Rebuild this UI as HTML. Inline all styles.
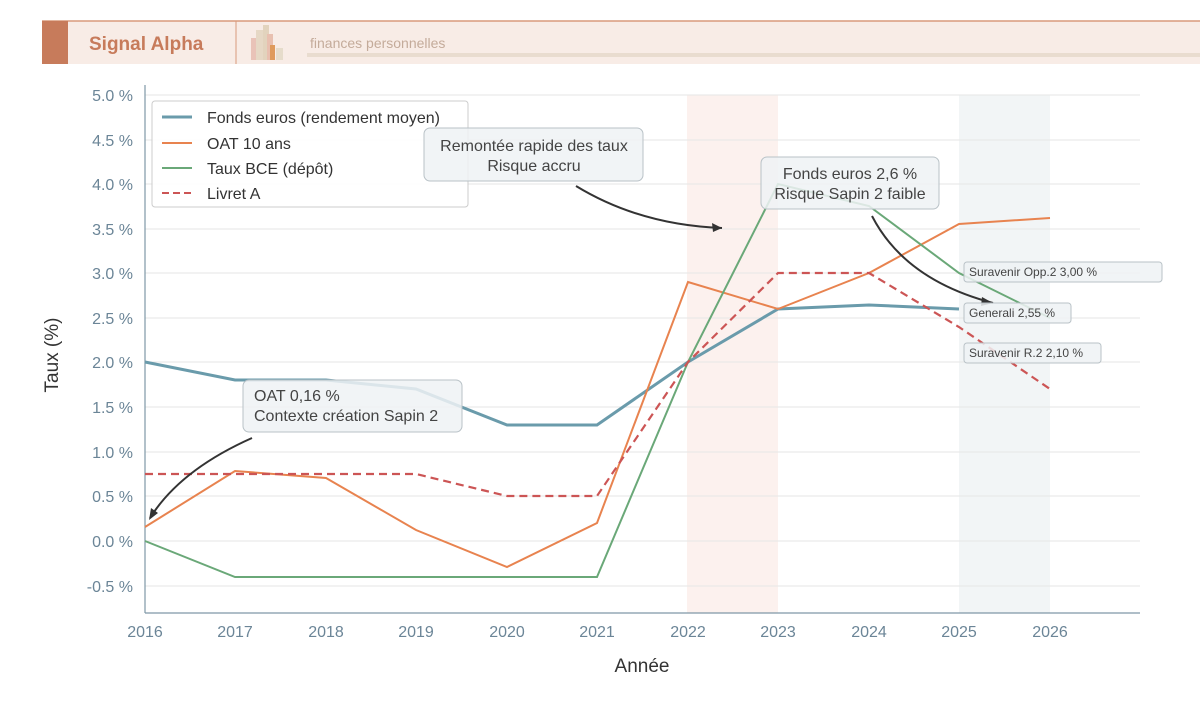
<!DOCTYPE html>
<html><head><meta charset="utf-8"><style>
body{margin:0;background:#fff;width:1200px;height:721px;overflow:hidden;font-family:"Liberation Sans",sans-serif}
</style></head><body>
<svg width="1200" height="721" xmlns="http://www.w3.org/2000/svg" font-family="Liberation Sans, sans-serif">
<rect x="42" y="21" width="1158" height="43" fill="#f8ece6"/>
<line x1="42" y1="21" x2="1200" y2="21" stroke="#d99a7c" stroke-width="1.5"/>
<rect x="42" y="21" width="26" height="43" fill="#c77b5b"/>
<line x1="236" y1="21" x2="236" y2="64" stroke="#d99a7c" stroke-width="1"/>
<text x="89" y="50" font-size="19" font-weight="bold" fill="#c77b5b">Signal Alpha</text>
<rect x="251" y="38" width="8" height="22" fill="#e9c3b8"/><rect x="256" y="30" width="8" height="30" fill="#e6d8c5"/>
<rect x="263" y="25" width="6" height="35" fill="#e2d3bd"/><rect x="267" y="34" width="6" height="26" fill="#e8c0b0"/>
<rect x="270" y="45" width="5" height="15" fill="#df9a5c"/><rect x="276" y="48" width="7" height="12" fill="#e6dccb"/>
<text x="310" y="48" font-size="14" fill="#c4ab9a">finances personnelles</text>
<rect x="307" y="53" width="893" height="4" fill="#e9dccf"/>
<rect x="687" y="95" width="91" height="518" fill="#fcf1ee"/>
<rect x="959" y="95" width="91" height="518" fill="#f2f5f6"/>
<g stroke="#e6e6e6" stroke-width="1">
<line x1="145" x2="1140" y1="95" y2="95"/><line x1="145" x2="1140" y1="140" y2="140"/><line x1="145" x2="1140" y1="184" y2="184"/><line x1="145" x2="1140" y1="229" y2="229"/><line x1="145" x2="1140" y1="273" y2="273"/><line x1="145" x2="1140" y1="318" y2="318"/><line x1="145" x2="1140" y1="362" y2="362"/><line x1="145" x2="1140" y1="407" y2="407"/><line x1="145" x2="1140" y1="452" y2="452"/><line x1="145" x2="1140" y1="496" y2="496"/><line x1="145" x2="1140" y1="541" y2="541"/><line x1="145" x2="1140" y1="586" y2="586"/>
</g>
<line x1="145" y1="85" x2="145" y2="613" stroke="#7f98a6" stroke-width="1.2"/>
<line x1="145" y1="613" x2="1140" y2="613" stroke="#7f98a6" stroke-width="1.2"/>
<g font-size="16" fill="#6b8597" text-anchor="end">
<text x="133" y="101">5.0 %</text><text x="133" y="146">4.5 %</text><text x="133" y="190">4.0 %</text><text x="133" y="235">3.5 %</text><text x="133" y="279">3.0 %</text><text x="133" y="324">2.5 %</text><text x="133" y="368">2.0 %</text><text x="133" y="413">1.5 %</text><text x="133" y="458">1.0 %</text><text x="133" y="502">0.5 %</text><text x="133" y="547">0.0 %</text><text x="133" y="592">-0.5 %</text>
</g>
<g font-size="16" fill="#6b8597" text-anchor="middle">
<text x="145" y="637">2016</text><text x="235" y="637">2017</text><text x="326" y="637">2018</text><text x="416" y="637">2019</text><text x="507" y="637">2020</text><text x="597" y="637">2021</text><text x="688" y="637">2022</text><text x="778" y="637">2023</text><text x="869" y="637">2024</text><text x="959" y="637">2025</text><text x="1050" y="637">2026</text>
</g>
<text x="642" y="672" font-size="19" fill="#333" text-anchor="middle">Année</text>
<text transform="translate(58,355) rotate(-90)" font-size="19" fill="#333" text-anchor="middle">Taux (%)</text>
<polyline fill="none" stroke="#6a9bab" stroke-width="3" points="145,362 235,380 326,380 416,389 507,425 597,425 688,362 778,309 869,305 959,309"/>
<polyline fill="none" stroke="#e8834f" stroke-width="2" points="145,527 235,471 326,478 416,530 507,567 597,523 688,282 778,309 869,273 959,224 1050,218"/>
<polyline fill="none" stroke="#6aa878" stroke-width="2" points="145,541 235,577 326,577 416,577 507,577 597,577 688,362 778,184 869,206 959,273 1050,318"/>
<polyline fill="none" stroke="#cc5555" stroke-width="2.2" stroke-dasharray="8,5" points="145,474 235,474 326,474 416,474 507,496 597,496 688,362 778,273 869,273 959,327 1050,389"/>
<rect x="152" y="101" width="316" height="106" rx="3" fill="#fff" fill-opacity="0.85" stroke="#ccc"/>
<line x1="162" y1="117" x2="192" y2="117" stroke="#6a9bab" stroke-width="3"/><text x="207" y="123" font-size="16" fill="#333">Fonds euros (rendement moyen)</text>
<line x1="162" y1="143" x2="192" y2="143" stroke="#e8834f" stroke-width="2"/><text x="207" y="149" font-size="16" fill="#333">OAT 10 ans</text>
<line x1="162" y1="168" x2="192" y2="168" stroke="#6aa878" stroke-width="2"/><text x="207" y="174" font-size="16" fill="#333">Taux BCE (dépôt)</text>
<line x1="162" y1="193" x2="192" y2="193" stroke="#cc5555" stroke-width="2" stroke-dasharray="7,4"/><text x="207" y="199" font-size="16" fill="#333">Livret A</text>
<rect x="424" y="128" width="219" height="53" rx="6" fill="#eef2f4" fill-opacity="0.85" stroke="#b9c2c7"/>
<text x="534" y="151" font-size="16" fill="#444" text-anchor="middle">Remontée rapide des taux</text>
<text x="534" y="171" font-size="16" fill="#444" text-anchor="middle">Risque accru</text>
<path d="M576,186 Q640,225 722,228" fill="none" stroke="#333" stroke-width="2"/><path d="M722,228 l-10,-5 l1,9 z" fill="#333"/>
<rect x="761" y="157" width="178" height="52" rx="6" fill="#eef2f4" fill-opacity="0.85" stroke="#b9c2c7"/>
<text x="850" y="179" font-size="16" fill="#444" text-anchor="middle">Fonds euros 2,6 %</text>
<text x="850" y="199" font-size="16" fill="#444" text-anchor="middle">Risque Sapin 2 faible</text>
<path d="M872,216 Q905,280 993,303" fill="none" stroke="#333" stroke-width="2"/><path d="M993,303 l-11,-6 l-1,9 z" fill="#333"/>
<rect x="243" y="380" width="219" height="52" rx="6" fill="#eef2f4" fill-opacity="0.85" stroke="#b9c2c7"/>
<text x="254" y="401" font-size="16" fill="#444">OAT 0,16 %</text>
<text x="254" y="421" font-size="16" fill="#444">Contexte création Sapin 2</text>
<path d="M252,438 Q180,470 150,518" fill="none" stroke="#333" stroke-width="2"/><path d="M149,520 l2,-12 l7,5 z" fill="#333"/>
<g font-size="12" fill="#444">
<rect x="964" y="262" width="198" height="20" rx="3" fill="#eef2f4" fill-opacity="0.85" stroke="#b9c2c7"/><text x="969" y="276">Suravenir Opp.2 3,00 %</text>
<rect x="964" y="303" width="107" height="20" rx="3" fill="#eef2f4" fill-opacity="0.85" stroke="#b9c2c7"/><text x="969" y="317">Generali 2,55 %</text>
<rect x="964" y="343" width="137" height="20" rx="3" fill="#eef2f4" fill-opacity="0.85" stroke="#b9c2c7"/><text x="969" y="357">Suravenir R.2 2,10 %</text>
</g>
</svg>
</body></html>
